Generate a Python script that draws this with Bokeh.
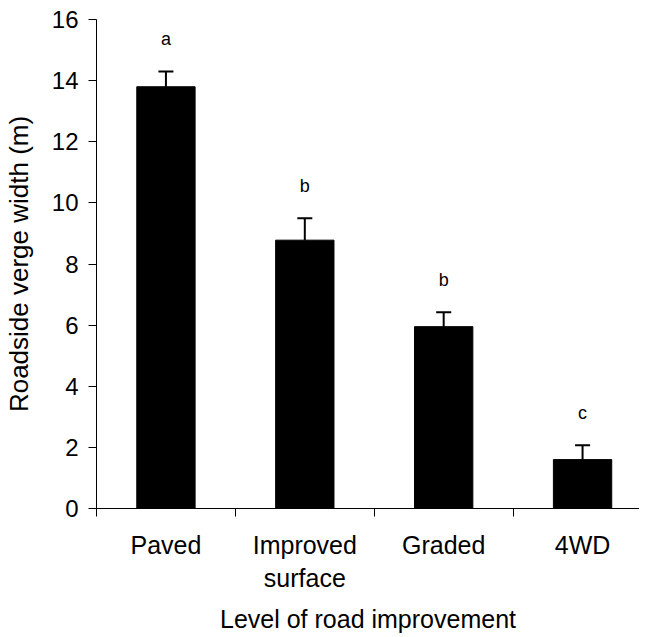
from bokeh.plotting import figure
from bokeh.models import FixedTicker, Whisker, TeeHead, ColumnDataSource, Range1d
from bokeh.core.properties import value
from bokeh.embed import file_html
from bokeh.resources import INLINE

categories = ["Paved", "Improved\nsurface", "Graded", "4WD"]
widths = [13.8, 8.78, 5.95, 1.6]
errors = [0.5, 0.72, 0.47, 0.47]
letters = ["a", "b", "b", "c"]
y_ticks = [0, 2, 4, 6, 8, 10, 12, 14, 16]

FONT = "Liberation Sans"

xs = [i + 0.5 for i in range(len(categories))]
upper = [w + e for w, e in zip(widths, errors)]
letter_y = [u + 1.05 for u in upper]

src = ColumnDataSource(dict(x=xs, top=widths, upper=upper, ly=letter_y, letter=letters))

p = figure(width=639, height=636, output_backend="svg", toolbar_location=None,
           x_range=Range1d(0, 3.91), y_range=Range1d(0, 16),
           min_border_left=93, min_border_right=0, min_border_top=19, min_border_bottom=127)
p.outline_line_color = None
p.xgrid.grid_line_color = None
p.ygrid.grid_line_color = None

p.vbar(x="x", top="top", width=0.42, bottom=0, source=src, fill_color="black", line_color="black")

w = Whisker(base="x", lower="top", upper="upper", source=src, dimension="height",
            line_color="black", line_width=2,
            upper_head=TeeHead(size=15, line_color="black", line_width=2), lower_head=None)
p.add_layout(w)

p.text(x="x", y="ly", text="letter", source=src, text_align="center", text_baseline="middle",
       text_font=value(FONT), text_font_size="18px", text_color="black")

# x axis
p.xaxis.ticker = FixedTicker(ticks=xs, minor_ticks=list(range(len(categories) + 1)))
p.xaxis.major_label_overrides = {x: c for x, c in zip(xs, categories)}
p.xaxis.major_tick_out = 0
p.xaxis.major_tick_in = 0
p.xaxis.minor_tick_out = 8
p.xaxis.minor_tick_in = 0
p.xaxis.minor_tick_line_color = "black"
p.xaxis.axis_line_color = "black"
p.xaxis.major_label_text_font = FONT
p.xaxis.major_label_text_font_size = "25px"
p.xaxis.major_label_text_color = "black"
p.xaxis.major_label_text_line_height = 1.2
p.xaxis.major_label_standoff = 14
p.xaxis.axis_label = "Level of road improvement"
p.xaxis.axis_label_text_font = FONT
p.xaxis.axis_label_text_font_size = "25px"
p.xaxis.axis_label_text_font_style = "normal"
p.xaxis.axis_label_text_color = "black"
p.xaxis.axis_label_standoff = 10

# y axis
p.yaxis.ticker = FixedTicker(ticks=y_ticks, minor_ticks=[])
p.yaxis.major_tick_out = 8
p.yaxis.major_tick_in = 0
p.yaxis.major_tick_line_color = "black"
p.yaxis.axis_line_color = "black"
p.yaxis.major_label_text_font = FONT
p.yaxis.major_label_text_font_size = "24px"
p.yaxis.major_label_text_color = "black"
p.yaxis.major_label_standoff = 10
p.yaxis.axis_label = "Roadside verge width (m)"
p.yaxis.axis_label_text_font = FONT
p.yaxis.axis_label_text_font_size = "26px"
p.yaxis.axis_label_text_font_style = "normal"
p.yaxis.axis_label_text_color = "black"
p.yaxis.axis_label_standoff = 15

open("out.html", "w").write(file_html(p, INLINE))
